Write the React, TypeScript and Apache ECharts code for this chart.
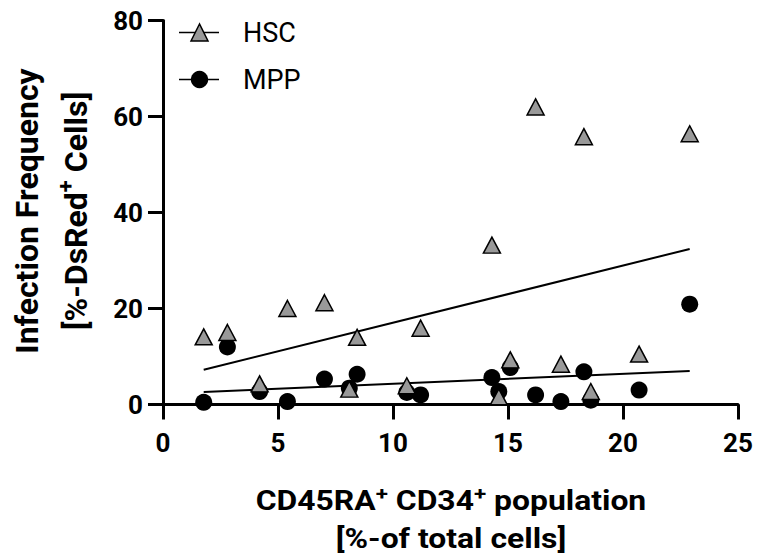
import React, { useEffect, useRef } from 'react';
import * as echarts from 'echarts';

const xValues = [1.77, 2.8, 4.2, 5.41, 7.02, 8.1, 8.44, 10.6, 11.2, 14.3, 14.6, 15.1, 16.2, 17.3, 18.3, 18.6, 20.7, 22.9];
const hscValues = [14.1, 15.0, 4.3, 20.0, 21.2, 3.2, 14.0, 3.9, 15.9, 33.2, 1.6, 9.3, 62.0, 8.4, 55.8, 2.7, 10.5, 56.4];
const mppValues = [0.45, 12.0, 2.7, 0.6, 5.3, 3.4, 6.3, 2.5, 2.0, 5.6, 2.7, 7.7, 2.0, 0.6, 6.8, 0.9, 3.0, 20.9];
const seriesNames = ['HSC', 'MPP'];
const xRange = [0, 25];
const yRange = [0, 80];

function regression(xs: number[], ys: number[]) {
  const n = xs.length;
  const mx = xs.reduce((a, b) => a + b, 0) / n;
  const my = ys.reduce((a, b) => a + b, 0) / n;
  let sxy = 0, sxx = 0;
  for (let i = 0; i < n; i++) {
    sxy += (xs[i] - mx) * (ys[i] - my);
    sxx += (xs[i] - mx) * (xs[i] - mx);
  }
  const b = sxy / sxx;
  const a = my - b * mx;
  const x0 = Math.min(...xs);
  const x1 = Math.max(...xs);
  return [[x0, a + b * x0], [x1, a + b * x1]];
}

const FONT = 'Roboto';

export default function App() {
  const ref = useRef<HTMLDivElement>(null);
  useEffect(() => {
    if (!ref.current) return;
    const chart = echarts.init(ref.current, null, { renderer: 'svg' });
    const hscPts = xValues.map((x, i) => [x, hscValues[i]]);
    const mppPts = xValues.map((x, i) => [x, mppValues[i]]);
    const bx = { fontSize: 27, fontWeight: 'bold' as const, fontFamily: FONT, color: '#000', lineHeight: 38 };
    const sx = { fontSize: 19, fontWeight: 'bold' as const, fontFamily: FONT, color: '#000', lineHeight: 38, verticalAlign: 'top' as const, padding: [2, 0, 0, 0] };
    const by = { fontSize: 32, fontWeight: 'bold' as const, fontFamily: FONT, color: '#000', lineHeight: 49 };
    const sy = { fontSize: 22, fontWeight: 'bold' as const, fontFamily: FONT, color: '#000', lineHeight: 49, verticalAlign: 'top' as const, padding: [3, 0, 0, 0] };
    chart.setOption({
      animation: false,
      backgroundColor: '#fff',
      grid: { left: 163, top: 20.5, width: 575, height: 384 },
      xAxis: {
        type: 'value', min: xRange[0], max: xRange[1], interval: 5,
        splitLine: { show: false },
        axisLine: { lineStyle: { color: '#000', width: 3 } },
        axisTick: { length: 15, lineStyle: { color: '#000', width: 3 } },
        axisLabel: { fontSize: 26, fontWeight: 'bold', fontFamily: FONT, color: '#000', margin: 25 },
      },
      yAxis: {
        type: 'value', min: yRange[0], max: yRange[1], interval: 20,
        splitLine: { show: false },
        axisLine: { lineStyle: { color: '#000', width: 3 } },
        axisTick: { length: 15, lineStyle: { color: '#000', width: 3 } },
        axisLabel: { fontSize: 26, fontWeight: 'bold', fontFamily: FONT, color: '#000', margin: 20 },
      },
      series: [
        {
          type: 'line', data: regression(xValues, hscValues), symbol: 'none', z: 1,
          lineStyle: { color: '#000', width: 2 }, silent: true,
        },
        {
          type: 'line', data: regression(xValues, mppValues), symbol: 'none', z: 1,
          lineStyle: { color: '#000', width: 2 }, silent: true,
        },
        {
          name: seriesNames[1], type: 'scatter', data: mppPts, symbol: 'circle', symbolSize: 17, z: 2,
          itemStyle: { color: '#000', opacity: 1 },
        },
        {
          name: seriesNames[0], type: 'scatter', data: hscPts, symbol: 'triangle', symbolSize: [17, 16], z: 3,
          itemStyle: { color: '#999999', borderColor: '#000', borderWidth: 1.5, opacity: 1 },
        },
      ],
      graphic: [
        { type: 'line', shape: { x1: 179, y1: 32.5, x2: 219, y2: 32.5 }, style: { stroke: '#000', lineWidth: 1.5 } },
        { type: 'polygon', shape: { points: [[199.5, 24], [191, 41], [208, 41]] }, style: { fill: '#999999', stroke: '#000', lineWidth: 1.5 } },
        { type: 'text', x: 243, y: 33, style: { text: seriesNames[0], fontSize: 27, fontFamily: FONT, fill: '#000', verticalAlign: 'middle' } },
        { type: 'line', shape: { x1: 179, y1: 79.5, x2: 219, y2: 79.5 }, style: { stroke: '#000', lineWidth: 1.5 } },
        { type: 'circle', shape: { cx: 199.5, cy: 79.5, r: 8.7 }, style: { fill: '#000' } },
        { type: 'text', x: 243, y: 80, style: { text: seriesNames[1], fontSize: 27, fontFamily: FONT, fill: '#000', verticalAlign: 'middle' } },
        {
          type: 'text', x: 451, y: 520, scaleX: 1.18,
          style: {
            text: '{b|CD45RA}{s|+}{b| CD34}{s|+}{b| population}\n{b|[%-of total cells]}',
            align: 'center', verticalAlign: 'middle',
            rich: { b: bx, s: sx },
          },
        },
        {
          type: 'text', x: 51, y: 211, rotation: Math.PI / 2,
          style: {
            text: '{b|Infection Frequency}\n{b|[%-DsRed}{s|+}{b| Cells]}',
            align: 'center', verticalAlign: 'middle',
            rich: { b: by, s: sy },
          },
        },
      ],
    });
    return () => chart.dispose();
  }, []);
  return <div ref={ref} style={{ position: 'absolute', left: 0, top: 0, width: 758, height: 556 }} />;
}
